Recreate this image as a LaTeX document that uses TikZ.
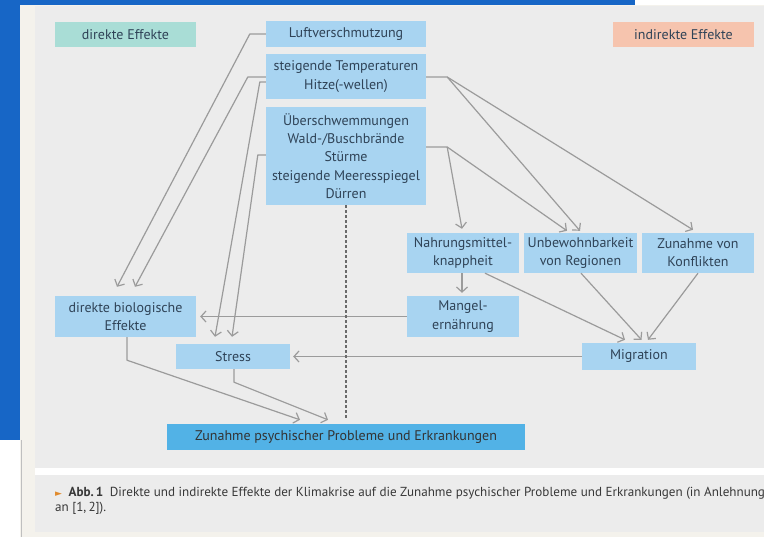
\documentclass[tikz,border=0pt]{standalone}
\usepackage{fontspec}
\setmainfont{PT Sans}
\newfontfamily\symfont{DejaVu Sans}
\usetikzlibrary{positioning}
\usetikzlibrary{arrows.meta}
\definecolor{frameblue}{HTML}{1766C6}
\definecolor{panelgray}{HTML}{ECECEC}
\definecolor{creamgray}{HTML}{F4F2EC}
\definecolor{boxblue}{HTML}{A8D4F1}
\definecolor{deepblue}{HTML}{52B2E6}
\definecolor{tealbox}{HTML}{A9DDD6}
\definecolor{salmonbox}{HTML}{F6C4AE}
\definecolor{textdark}{HTML}{2F4357}
\definecolor{edgegray}{HTML}{9B9B9B}
\definecolor{dashgray}{HTML}{6A6A6A}
\definecolor{capor}{HTML}{E08A2C}
\tikzset{
    box/.style = {rectangle, fill=boxblue, text=textdark, align=center, inner sep=0pt, font=\fontsize{14}{18.3}\selectfont},
    boxd/.style = {box, fill=deepblue, text=black!80},
    boxt/.style = {box, fill=tealbox},
    boxs/.style = {box, fill=salmonbox},
    edgeg/.style = {-{Straight Barb[length=5pt,width=11pt]}, line width=1.2pt, draw=edgegray, line join=round},
    edgegd/.style = {densely dashed, line width=1.3pt, draw=dashgray}, % link
    caption/.style = {inner sep=0pt, text=black!78, font=\fontsize{13.1}{14}\selectfont}
}

\begin{document}
\begin{tikzpicture}[x=1pt,y=-1pt]
\useasboundingbox (0,0) rectangle (764,537);
\clip (0,0) rectangle (764,537);
% frame
\fill[creamgray] (0,0) rectangle (764,537);
\fill[frameblue] (0,0) rectangle (20,440);
\fill[frameblue] (0,0) rectangle (635,5);
\fill[white] (0,440) rectangle (20,537);
\fill[white] (635,0) rectangle (764,5);
\draw[black!25, line width=1pt] (21,440) -- (21,537);
\fill[panelgray] (35,6) rectangle (764,468);
\fill[white] (35,468) rectangle (764,475);
\fill[panelgray] (35,475) rectangle (764,532);

\node[boxt, minimum width=141pt, minimum height=25pt] (dir) at (125.5,34.5) {direkte Effekte};
\node[boxs, minimum width=141pt, minimum height=25pt] (indir) at (683.5,34.5) {indirekte Effekte};

\node[box, minimum width=160pt, minimum height=26pt] (luft) at (346,34) {Luftverschmutzung};
\node[box, minimum width=160pt, minimum height=45pt] (temp) at (346,76.5) {steigende Temperaturen\\Hitze(-wellen)};
\node[box, minimum width=160pt, minimum height=98pt] (ueber) at (346,156) {Überschwemmungen\\Wald-/Buschbrände\\Stürme\\steigende Meeresspiegel\\Dürren};

\node[box, minimum width=112pt, minimum height=40pt] (nahrung) at (463,253) {Nahrungsmittel-\\knappheit};
\node[box, minimum width=113pt, minimum height=40pt] (unbew) at (580.5,253) {Unbewohnbarkeit\\von Regionen};
\node[box, minimum width=112pt, minimum height=40pt] (konfl) at (698,253) {Zunahme von\\Konflikten};
\node[box, minimum width=112pt, minimum height=41pt] (mangel) at (463,316.5) {Mangel-\\ernährung};
\node[box, minimum width=114pt, minimum height=27pt] (migr) at (639,356.5) {Migration};

\node[box, minimum width=141pt, minimum height=41pt] (bio) at (125.5,316.5) {direkte biologische\\Effekte};
\node[box, minimum width=114pt, minimum height=25pt] (stress) at (233,356.5) {Stress};
\node[boxd, minimum width=358pt, minimum height=26pt] (psych) at (346,437) {Zunahme psychischer Probleme und Erkrankungen};

% direct
\draw[edgeg] (luft.west) -- ++(-16,0) -- ([xshift=-8.5pt,yshift=9pt]bio.north);
\draw[edgeg] ([yshift=-0.5pt]temp.west) -- ++(-18,0) -- ([xshift=9.5pt,yshift=9pt]bio.north);
\draw[edgeg] ([yshift=-5.5pt]temp.west) -- ++(-6,0) -- ([xshift=-18pt,yshift=7pt]stress.north);
\draw[edgeg] ([yshift=1pt]ueber.west) -- ++(-8,0) -- ([xshift=-1pt,yshift=7pt]stress.north);

% indirect
\draw[edgeg] ([yshift=-0.5pt]temp.east) -- ++(21,0) coordinate (tr) -- ([xshift=-0.5pt,yshift=2pt]unbew.north);
\draw[edgeg] (tr) -- ([xshift=-5pt,yshift=3pt]konfl.north);
\draw[edgeg] ([yshift=9pt]ueber.east) -- ++(21,0) coordinate (ur) -- ([xshift=-1pt,yshift=4pt]nahrung.north);
\draw[edgeg] (ur) -- ([xshift=-13.5pt,yshift=2pt]unbew.north);

\draw[edgeg] ([xshift=-1pt]nahrung.south) -- ([xshift=-1pt,yshift=3pt]mangel.north);
\draw[edgeg] ([xshift=22pt]nahrung.south) -- ([xshift=-14pt,yshift=3pt]migr.north);
\draw[edgeg] ([xshift=0.5pt]unbew.south) -- ([xshift=2.5pt,yshift=3pt]migr.north);
\draw[edgeg] (konfl.south) -- ([xshift=9pt,yshift=3pt]migr.north);
\draw[edgeg] (mangel.west) -- ([xshift=4pt]bio.east);
\draw[edgeg] (migr.west) -- ([xshift=3pt]stress.east);

% to the bottom box
\draw[edgeg] ([xshift=1.5pt]bio.south) -- ++(0,23) -- ([xshift=-46pt,yshift=4pt]psych.north);
\draw[edgeg] ([xshift=1pt]stress.south) -- ++(0,13) -- ([xshift=-18pt,yshift=4pt]psych.north);
\draw[edgegd] (ueber.south) -- ([yshift=4pt]psych.north);

% caption
\node[caption, anchor=base west] (cap) at (55,497) {{\symfont\fontsize{9}{10}\selectfont\color{capor}►}\enspace\textbf{Abb.\,1}\enspace Direkte und indirekte Effekte der Klimakrise auf die Zunahme psychischer Probleme und Erkrankungen (in Anlehnung};
\node[caption, anchor=base west] (cap2) at (55,512) {an [1,\,2]).};
\end{tikzpicture}
\end{document}
